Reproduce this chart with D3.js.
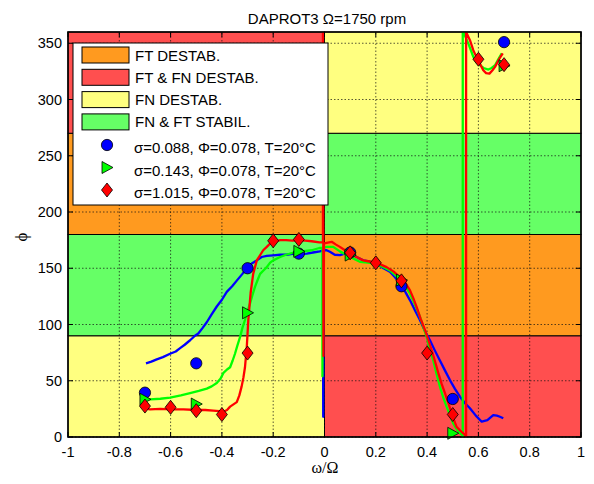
<!DOCTYPE html>
<html>
<head>
<meta charset="utf-8">
<script src="https://cdn.jsdelivr.net/npm/d3@7"></script>
<style>
  body { margin: 0; background: #fff; }
  svg { display: block; }
  text { font-family: "Liberation Sans", Arial, sans-serif; }
</style>
</head>
<body>
<svg id="chart" width="594" height="484"></svg>
<script>
// tick labels
const xTicks = [-1, -0.8, -0.6, -0.4, -0.2, 0, 0.2, 0.4, 0.6, 0.8, 1];
const yTicks = [0, 50, 100, 150, 200, 250, 300, 350];

// stability regions, bottom to top, for w/W < 0 and w/W > 0
const bandEdges = [0, 90, 180, 270, 360];
const bandsLeft = ["FN DESTAB.", "FN & FT STABIL.", "FT DESTAB.", "FT & FN DESTAB."];
const bandsRight = ["FT & FN DESTAB.", "FT DESTAB.", "FN & FT STABIL.", "FN DESTAB."];
const bandLegend = ["FT DESTAB.", "FT & FN DESTAB.", "FN DESTAB.", "FN & FT STABIL."];
const bandColor = {
  "FT DESTAB.": "#ff9a1f",
  "FT & FN DESTAB.": "#ff4f4f",
  "FN DESTAB.": "#ffff80",
  "FN & FT STABIL.": "#66ff66"
};

const seriesNames = [
  "σ=0.088, Φ=0.078, T=20°C",
  "σ=0.143, Φ=0.078, T=20°C",
  "σ=1.015, Φ=0.078, T=20°C"
];

// measured curves [w/W, phi]
const blueLine = [
  [-0.696, 65.5], [-0.675, 67], [-0.654, 69], [-0.63, 71], [-0.602, 74], [-0.58, 76], [-0.563, 79],
  [-0.545, 82], [-0.524, 86], [-0.505, 90], [-0.492, 92], [-0.475, 97], [-0.459, 102], [-0.44, 109],
  [-0.42, 116], [-0.4, 122], [-0.381, 129], [-0.36, 134], [-0.342, 139], [-0.32, 145], [-0.303, 150],
  [-0.285, 154], [-0.264, 157], [-0.245, 160], [-0.225, 161], [-0.2, 161.5], [-0.173, 162],
  [-0.147, 162], [-0.12, 163], [-0.095, 162.5], [-0.069, 163], [-0.045, 164], [-0.018, 165],
  [-0.006, 166], [-0.005, 18], [-0.003, 166], [0.008, 166], [0.021, 164.6], [0.04, 162],
  [0.06, 161.7], [0.08, 163], [0.1, 163], [0.125, 160], [0.151, 157], [0.175, 156], [0.203, 154],
  [0.23, 150], [0.255, 147], [0.275, 142], [0.294, 136.5], [0.315, 129], [0.333, 121.7],
  [0.352, 113], [0.372, 104], [0.39, 95], [0.411, 86], [0.43, 77], [0.45, 68], [0.47, 59],
  [0.489, 50.6], [0.508, 43], [0.528, 35.8], [0.548, 30], [0.567, 25.5], [0.59, 19],
  [0.613, 13.6], [0.635, 15], [0.658, 19.5], [0.672, 19], [0.684, 18], [0.697, 16.6]
];
const greenLine = [
  [-0.706, 33.5], [-0.68, 33.5], [-0.64, 34], [-0.602, 35], [-0.56, 37], [-0.524, 39],
  [-0.49, 41], [-0.459, 43], [-0.44, 45], [-0.42, 48], [-0.405, 52], [-0.394, 57], [-0.38, 60],
  [-0.368, 62], [-0.358, 68], [-0.349, 74], [-0.34, 81], [-0.329, 89], [-0.32, 97], [-0.31, 104],
  [-0.3, 112], [-0.29, 119], [-0.281, 126], [-0.271, 133.5], [-0.26, 140], [-0.251, 145],
  [-0.238, 148], [-0.225, 151], [-0.212, 155], [-0.2, 157], [-0.173, 160], [-0.15, 162],
  [-0.12, 164], [-0.09, 165], [-0.05, 166], [-0.02, 168], [-0.008, 168], [-0.008, 54],
  [-0.006, 168], [0.008, 169], [0.034, 169], [0.06, 165], [0.087, 161.7], [0.11, 159],
  [0.138, 155.7], [0.17, 155], [0.2, 154], [0.23, 151], [0.255, 148], [0.275, 144],
  [0.294, 140], [0.315, 134], [0.333, 127.6], [0.352, 118], [0.372, 107], [0.385, 98],
  [0.398, 89], [0.411, 78], [0.424, 68], [0.437, 56], [0.45, 44.7], [0.463, 35], [0.476, 27],
  [0.49, 19], [0.502, 12], [0.515, 7], [0.528, 3.3], [0.537, 1.8], [0.539, 0], [0.539, 360],
  [0.545, 358], [0.561, 349.7], [0.58, 338], [0.593, 333], [0.606, 330.5], [0.62, 328],
  [0.639, 326.6], [0.652, 328], [0.665, 330.5], [0.678, 336], [0.691, 341]
];
const redLine = [
  [-0.7, 25.5], [-0.68, 24.6], [-0.64, 25], [-0.602, 24.6], [-0.55, 24.5], [-0.498, 24],
  [-0.465, 24], [-0.434, 23.4], [-0.41, 23], [-0.394, 22.5], [-0.38, 24], [-0.368, 27],
  [-0.355, 29], [-0.342, 31], [-0.332, 37], [-0.323, 45], [-0.316, 53], [-0.31, 62],
  [-0.303, 80], [-0.297, 104], [-0.288, 128], [-0.278, 145], [-0.264, 157], [-0.25, 162],
  [-0.239, 166], [-0.225, 169], [-0.212, 172], [-0.19, 174], [-0.173, 175], [-0.15, 175],
  [-0.125, 174.5], [-0.1, 175], [-0.075, 174.5], [-0.05, 174], [-0.02, 173], [-0.006, 173],
  [-0.006, 360], [-0.004, 72], [-0.002, 172], [0.008, 172.6], [0.028, 173.5], [0.045, 171],
  [0.06, 169], [0.08, 166], [0.1, 164], [0.125, 160], [0.151, 157], [0.175, 156], [0.2, 155],
  [0.222, 153], [0.242, 151], [0.27, 147], [0.294, 142], [0.315, 137], [0.333, 130.6],
  [0.347, 123], [0.359, 115.7], [0.375, 105], [0.392, 95], [0.405, 86], [0.418, 77],
  [0.431, 67], [0.444, 56.6], [0.457, 47], [0.47, 38.8], [0.483, 30], [0.496, 21],
  [0.505, 15], [0.515, 9], [0.528, 6], [0.541, 3.3], [0.548, 1.8], [0.552, 0], [0.552, 360],
  [0.556, 358], [0.567, 352.7], [0.58, 343.8], [0.59, 339], [0.6, 335], [0.61, 330],
  [0.619, 326], [0.63, 323.5], [0.643, 323], [0.655, 326], [0.665, 329], [0.681, 336],
  [0.695, 341]
];

// measured points
const bluePts = [[-0.7, 39.4], [-0.5, 65.5], [-0.3, 150], [-0.1, 163], [0.1, 164], [0.3, 134], [0.5, 33.8], [0.7, 351]];
const greenPts = [[-0.7, 33.5], [-0.5, 29.3], [-0.3, 110.4], [-0.1, 165], [0.1, 161.7], [0.3, 139.5], [0.5, 3.3], [0.7, 330]];
const redPts = [[-0.7, 27.5], [-0.6, 26.4], [-0.5, 23.4], [-0.4, 20], [-0.3, 74.6], [-0.2, 174.4], [-0.1, 175.6],
  [0.1, 163.7], [0.2, 154.8], [0.3, 138.8], [0.4, 74.6], [0.5, 20], [0.6, 335.8], [0.7, 331]];

const svg = d3.select("#chart");
const margin = {top: 32, right: 13, bottom: 47, left: 68};
const W = 594, H = 484;

const x = d3.scaleLinear().domain([-1, 1]).range([margin.left, W - margin.right]);
const y = d3.scaleLinear().domain([0, 360]).range([H - margin.bottom, margin.top]);

svg.append("defs").append("clipPath").attr("id", "plotclip")
  .append("rect")
  .attr("x", x(-1)).attr("y", y(360))
  .attr("width", x(1) - x(-1)).attr("height", y(0) - y(360));

// region patches
const bands = [];
bandsLeft.forEach((n, i) => bands.push({x0: -1, x1: 0, y0: bandEdges[i], y1: bandEdges[i + 1], name: n}));
bandsRight.forEach((n, i) => bands.push({x0: 0, x1: 1, y0: bandEdges[i], y1: bandEdges[i + 1], name: n}));

svg.append("g")
  .selectAll("rect")
  .data(bands)
  .join("rect")
  .attr("x", d => x(d.x0))
  .attr("y", d => y(d.y1))
  .attr("width", d => x(d.x1) - x(d.x0))
  .attr("height", d => y(d.y0) - y(d.y1))
  .attr("fill", d => bandColor[d.name])
  .attr("stroke", "#000")
  .attr("stroke-width", 1);

// dotted grid
const grid = svg.append("g")
  .attr("stroke", "#111")
  .attr("stroke-width", 0.7)
  .attr("stroke-dasharray", "1.5,2");
grid.selectAll(".gx").data(xTicks.slice(1, -1)).join("line")
  .attr("x1", d => x(d)).attr("x2", d => x(d))
  .attr("y1", y(0)).attr("y2", y(360));
grid.selectAll(".gy").data(yTicks).join("line")
  .attr("x1", x(-1)).attr("x2", x(1))
  .attr("y1", d => y(d)).attr("y2", d => y(d));

// curves
const line = d3.line().x(d => x(d[0])).y(d => y(d[1]));
const curves = [
  {pts: blueLine, color: "#0000ff"},
  {pts: greenLine, color: "#00ff00"},
  {pts: redLine, color: "#ff0000"}
];
svg.append("g")
  .attr("clip-path", "url(#plotclip)")
  .attr("fill", "none")
  .attr("stroke-width", 2.3)
  .attr("stroke-linejoin", "round")
  .selectAll("path")
  .data(curves)
  .join("path")
  .attr("stroke", d => d.color)
  .attr("d", d => line(d.pts));

// markers
const circleSym = d3.symbol().type(d3.symbolCircle).size(100);
const triPath = "M-5,-6L6,0L-5,6Z";
const diaPath = "M0,-7L5.5,0L0,7L-5.5,0Z";

const mk = svg.append("g").attr("stroke", "#000").attr("stroke-width", 0.8);
mk.selectAll(".mb").data(bluePts).join("path")
  .attr("d", circleSym()).attr("fill", "#0000ff")
  .attr("transform", d => `translate(${x(d[0])},${y(d[1])})`);
mk.selectAll(".mg").data(greenPts).join("path")
  .attr("d", triPath).attr("fill", "#00ff00")
  .attr("transform", d => `translate(${x(d[0])},${y(d[1])})`);
mk.selectAll(".mr").data(redPts).join("path")
  .attr("d", diaPath).attr("fill", "#ff0000")
  .attr("transform", d => `translate(${x(d[0])},${y(d[1])})`);

// axes box with inward ticks
const ax = svg.append("g");
ax.append("rect")
  .attr("x", x(-1)).attr("y", y(360))
  .attr("width", x(1) - x(-1)).attr("height", y(0) - y(360))
  .attr("fill", "none").attr("stroke", "#000").attr("stroke-width", 1.5);

const tickLen = 5;
ax.selectAll(".tx").data(xTicks).join("g")
  .each(function(d) {
    const g = d3.select(this);
    g.append("line").attr("x1", x(d)).attr("x2", x(d)).attr("y1", y(0)).attr("y2", y(0) - tickLen).attr("stroke", "#000");
    g.append("line").attr("x1", x(d)).attr("x2", x(d)).attr("y1", y(360)).attr("y2", y(360) + tickLen).attr("stroke", "#000");
    g.append("text").attr("x", x(d)).attr("y", y(0) + 20)
      .attr("text-anchor", "middle").attr("font-size", 14.5)
      .text(String(d));
  });
ax.selectAll(".ty").data(yTicks).join("g")
  .each(function(d) {
    const g = d3.select(this);
    g.append("line").attr("x1", x(-1)).attr("x2", x(-1) + tickLen).attr("y1", y(d)).attr("y2", y(d)).attr("stroke", "#000");
    g.append("line").attr("x1", x(1)).attr("x2", x(1) - tickLen).attr("y1", y(d)).attr("y2", y(d)).attr("stroke", "#000");
    g.append("text").attr("x", x(-1) - 6).attr("y", y(d) + 5)
      .attr("text-anchor", "end").attr("font-size", 14.5)
      .text(d);
  });

// title and axis labels
svg.append("text").attr("x", 327).attr("y", 24)
  .attr("text-anchor", "middle").attr("font-size", 15)
  .text("DAPROT3 Ω=1750 rpm");
svg.append("text").attr("x", 325).attr("y", 473)
  .attr("text-anchor", "middle").attr("font-size", 16)
  .style("font-family", "'Liberation Serif', 'Times New Roman', serif")
  .text("ω/Ω");
svg.append("text")
  .attr("transform", "translate(27,237) rotate(-90)")
  .attr("text-anchor", "middle").attr("font-size", 17)
  .style("font-family", "'Liberation Serif', 'Times New Roman', serif")
  .text("ϕ");

// legend
const lg = svg.append("g");
lg.append("rect").attr("x", 73).attr("y", 43).attr("width", 255).attr("height", 162)
  .attr("fill", "#fff").attr("stroke", "#000").attr("stroke-width", 1);
bandLegend.forEach((n, i) => {
  const cy = 55 + i * 22.3;
  lg.append("rect").attr("x", 82).attr("y", cy - 8).attr("width", 47).attr("height", 16)
    .attr("fill", bandColor[n]).attr("stroke", "#000").attr("stroke-width", 1);
  lg.append("text").attr("x", 135).attr("y", cy + 5.5).attr("font-size", 15).text(n);
});
const legMarks = [
  {d: circleSym(), fill: "#0000ff"},
  {d: triPath, fill: "#00ff00"},
  {d: diaPath, fill: "#ff0000"}
];
seriesNames.forEach((n, i) => {
  const cy = 145 + i * 22.5;
  lg.append("path").attr("d", legMarks[i].d).attr("fill", legMarks[i].fill)
    .attr("stroke", "#000").attr("stroke-width", 0.8)
    .attr("transform", `translate(107,${cy})`);
  lg.append("text").attr("x", 134).attr("y", cy + 8).attr("font-size", 15).text(n);
});
</script>
</body>
</html>
